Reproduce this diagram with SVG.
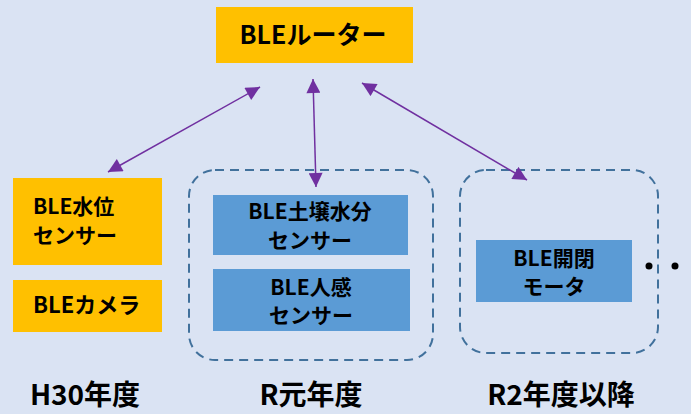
<svg xmlns="http://www.w3.org/2000/svg" width="691" height="414" viewBox="0 0 691 414">
<defs>
<style>
.t{font-family:"Noto Sans CJK JP","Noto Sans",sans-serif;font-weight:bold;fill:#000}
.orange{fill:#FFC000}
.blue{fill:#5B9BD5}
.grp{fill:none;stroke:#41719C;stroke-width:2;stroke-dasharray:9 6}
.conn{stroke:#7030A0;stroke-width:1.5;fill:none;marker-start:url(#ah);marker-end:url(#ah)}
</style>
<marker id="ah" viewBox="0 0 10 10" refX="10" refY="5" markerUnits="userSpaceOnUse" markerWidth="15" markerHeight="14" orient="auto-start-reverse">
<path d="M0,0 L10,5 L0,10 z" fill="#7030A0"/>
</marker>
</defs>
<rect width="691" height="414" fill="#DAE3F3"/>
<g id="group-r1">
<rect class="grp" x="189" y="170" width="244" height="190" rx="26"/>
</g>
<g id="group-r2">
<rect class="grp" x="460" y="170" width="198" height="183" rx="26"/>
</g>
<g id="connectors">
<line class="conn" x1="260" y1="87" x2="108" y2="172"/>
<line class="conn" x1="313" y1="79" x2="316" y2="187"/>
<line class="conn" x1="362" y1="83" x2="527" y2="180"/>
</g>
<g id="router">
<rect class="orange" x="216" y="7" width="197" height="56"/>
<text class="t" x="313" y="44" font-size="25" text-anchor="middle">BLEルーター</text>
</g>
<g id="water-sensor">
<rect class="orange" x="13" y="178" width="149" height="87"/>
<text class="t" x="33" y="214" font-size="21">BLE水位</text>
<text class="t" x="33" y="243" font-size="21">センサー</text>
</g>
<g id="camera">
<rect class="orange" x="13" y="280" width="149" height="52"/>
<text class="t" x="33" y="313" font-size="22">BLEカメラ</text>
</g>
<g id="soil-sensor">
<rect class="blue" x="213" y="195" width="195" height="60"/>
<text class="t" x="310" y="219" font-size="21" text-anchor="middle">BLE土壌水分</text>
<text class="t" x="310" y="248" font-size="21" text-anchor="middle">センサー</text>
</g>
<g id="human-sensor">
<rect class="blue" x="213" y="269" width="197" height="62"/>
<text class="t" x="311" y="295" font-size="21" text-anchor="middle">BLE人感</text>
<text class="t" x="311" y="323" font-size="21" text-anchor="middle">センサー</text>
</g>
<g id="motor">
<rect class="blue" x="476" y="240" width="156" height="62"/>
<text class="t" x="554" y="266" font-size="21" text-anchor="middle">BLE開閉</text>
<text class="t" x="554" y="294" font-size="21" text-anchor="middle">モータ</text>
</g>
<g id="ellipsis">
<circle cx="649" cy="266" r="3.5" fill="#000"/>
<circle cx="675" cy="266" r="3.5" fill="#000"/>
</g>
<g id="labels">
<text class="t" x="85" y="405" font-size="28" text-anchor="middle">H30年度</text>
<text class="t" x="311" y="405" font-size="28" text-anchor="middle">R元年度</text>
<text class="t" x="561" y="405" font-size="28" text-anchor="middle">R2年度以降</text>
</g>
</svg>
